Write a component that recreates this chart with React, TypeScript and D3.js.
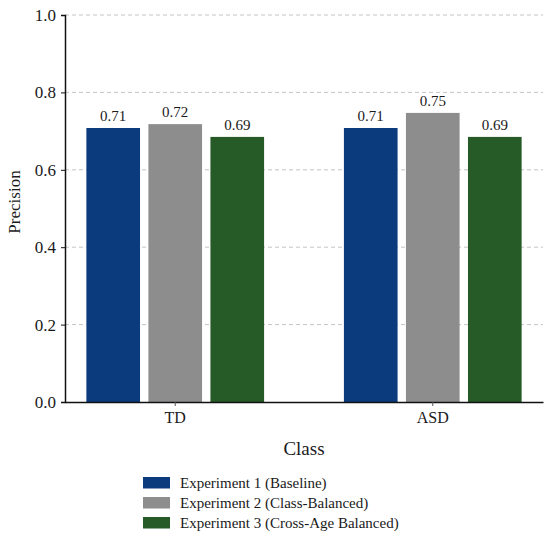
import * as d3 from 'd3';
import React, { useEffect, useRef } from 'react';

const classes = ['TD', 'ASD'];
const experiments = [
    'Experiment 1 (Baseline)',
    'Experiment 2 (Class-Balanced)',
    'Experiment 3 (Cross-Age Balanced)',
];
const expOneValues = [0.708, 0.708];
const expTwoValues = [0.718, 0.747];
const expThreeValues = [0.685, 0.685];
const yTicks = [0, 0.2, 0.4, 0.6, 0.8, 1.0];
const colors = ['#0b3a7d', '#8d8d8d', '#265a26'];

export default () => {
    const ref = useRef<any>();

    useEffect(() => {
        const width = 550;
        const height = 538;
        const margin = { top: 15, right: 7, bottom: 136, left: 65 };
        const font = '"Liberation Serif", "Times New Roman", serif';
        const textColor = '#1a1a1a';

        const svg = d3.select<any, any>(ref.current)
            .attr('width', width)
            .attr('height', height)
            .style('position', 'absolute')
            .style('left', '0px')
            .style('top', '0px')
            .style('background', '#fff')
            .style('font-family', font);
        svg.selectAll('*').remove();

        const series = [expOneValues, expTwoValues, expThreeValues];

        const x0 = d3.scaleBand()
            .domain(classes)
            .range([margin.left, width - margin.right])
            .paddingInner(0.31)
            .paddingOuter(0.083);

        const x1 = d3.scaleBand()
            .domain(experiments)
            .range([0, x0.bandwidth()])
            .paddingInner(0.135);

        const y = d3.scaleLinear()
            .domain([0, 1])
            .range([height - margin.bottom, margin.top]);

        // grid
        svg.append('g')
            .selectAll('line')
            .data(yTicks.filter((d) => d > 0))
            .join('line')
            .attr('x1', margin.left)
            .attr('x2', width - margin.right)
            .attr('y1', (d) => y(d))
            .attr('y2', (d) => y(d))
            .attr('stroke', '#c4c4c4')
            .attr('stroke-width', 1)
            .attr('stroke-dasharray', '4,3');

        // bars
        const groups = svg.append('g')
            .selectAll('g')
            .data(classes)
            .join('g')
            .attr('transform', (d) => `translate(${x0(d)},0)`);

        groups.selectAll('rect')
            .data((d, i) => series.map((s, k) => ({ key: experiments[k], value: s[i], color: colors[k] })))
            .join('rect')
            .attr('x', (d: any) => x1(d.key) as number)
            .attr('width', x1.bandwidth())
            .attr('y', (d: any) => y(d.value))
            .attr('height', (d: any) => y(0) - y(d.value))
            .attr('fill', (d: any) => d.color);

        groups.selectAll('text')
            .data((d, i) => series.map((s, k) => ({ key: experiments[k], value: s[i] })))
            .join('text')
            .attr('x', (d: any) => (x1(d.key) as number) + x1.bandwidth() / 2)
            .attr('y', (d: any) => y(d.value) - 7)
            .attr('text-anchor', 'middle')
            .style('font-family', font)
            .style('font-size', '15px')
            .attr('fill', textColor)
            .text((d: any) => d3.format('.2f')(d.value));

        // y axis
        const yAxis = d3.axisLeft(y)
            .tickValues(yTicks)
            .tickFormat(d3.format('.1f'))
            .tickSize(4)
            .tickPadding(5);

        const yG = svg.append('g')
            .attr('transform', `translate(${margin.left},0)`)
            .call(yAxis);
        yG.select('.domain').attr('stroke', '#111').attr('stroke-width', 1.5);
        yG.selectAll('.tick line').attr('stroke', '#111');
        yG.selectAll('.tick text')
            .style('font-family', font)
            .style('font-size', '17px')
            .attr('fill', textColor);

        // x axis
        const xAxis = d3.axisBottom(x0).tickSize(4).tickPadding(6).tickSizeOuter(0);
        const xG = svg.append('g')
            .attr('transform', `translate(0,${height - margin.bottom})`)
            .call(xAxis);
        xG.select('.domain').attr('stroke', '#111').attr('stroke-width', 1.5);
        xG.selectAll('.tick line').attr('stroke', '#555');
        xG.selectAll('.tick text')
            .style('font-family', font)
            .style('font-size', '16px')
            .attr('fill', textColor);

        // axis titles
        svg.append('text')
            .attr('transform', 'translate(20,202) rotate(-90)')
            .attr('text-anchor', 'middle')
            .style('font-family', font)
            .style('font-size', '17px')
            .attr('fill', textColor)
            .text('Precision');

        svg.append('text')
            .attr('x', (margin.left + width - margin.right) / 2)
            .attr('y', 455)
            .attr('text-anchor', 'middle')
            .style('font-family', font)
            .style('font-size', '19px')
            .attr('fill', textColor)
            .text('Class');

        // legend
        const legend = svg.append('g')
            .attr('transform', 'translate(143,477)')
            .selectAll('g')
            .data(experiments)
            .join('g')
            .attr('transform', (d, i) => `translate(0,${i * 20})`);

        legend.append('rect')
            .attr('width', 27)
            .attr('height', 11.5)
            .attr('fill', (d, i) => colors[i]);

        legend.append('text')
            .attr('x', 37)
            .attr('y', 11)
            .style('font-family', font)
            .style('font-size', '15px')
            .attr('fill', textColor)
            .text((d) => d);
    });

    return (
        <React.Fragment>
            <svg ref={ref}></svg>
        </React.Fragment>
    )
}
